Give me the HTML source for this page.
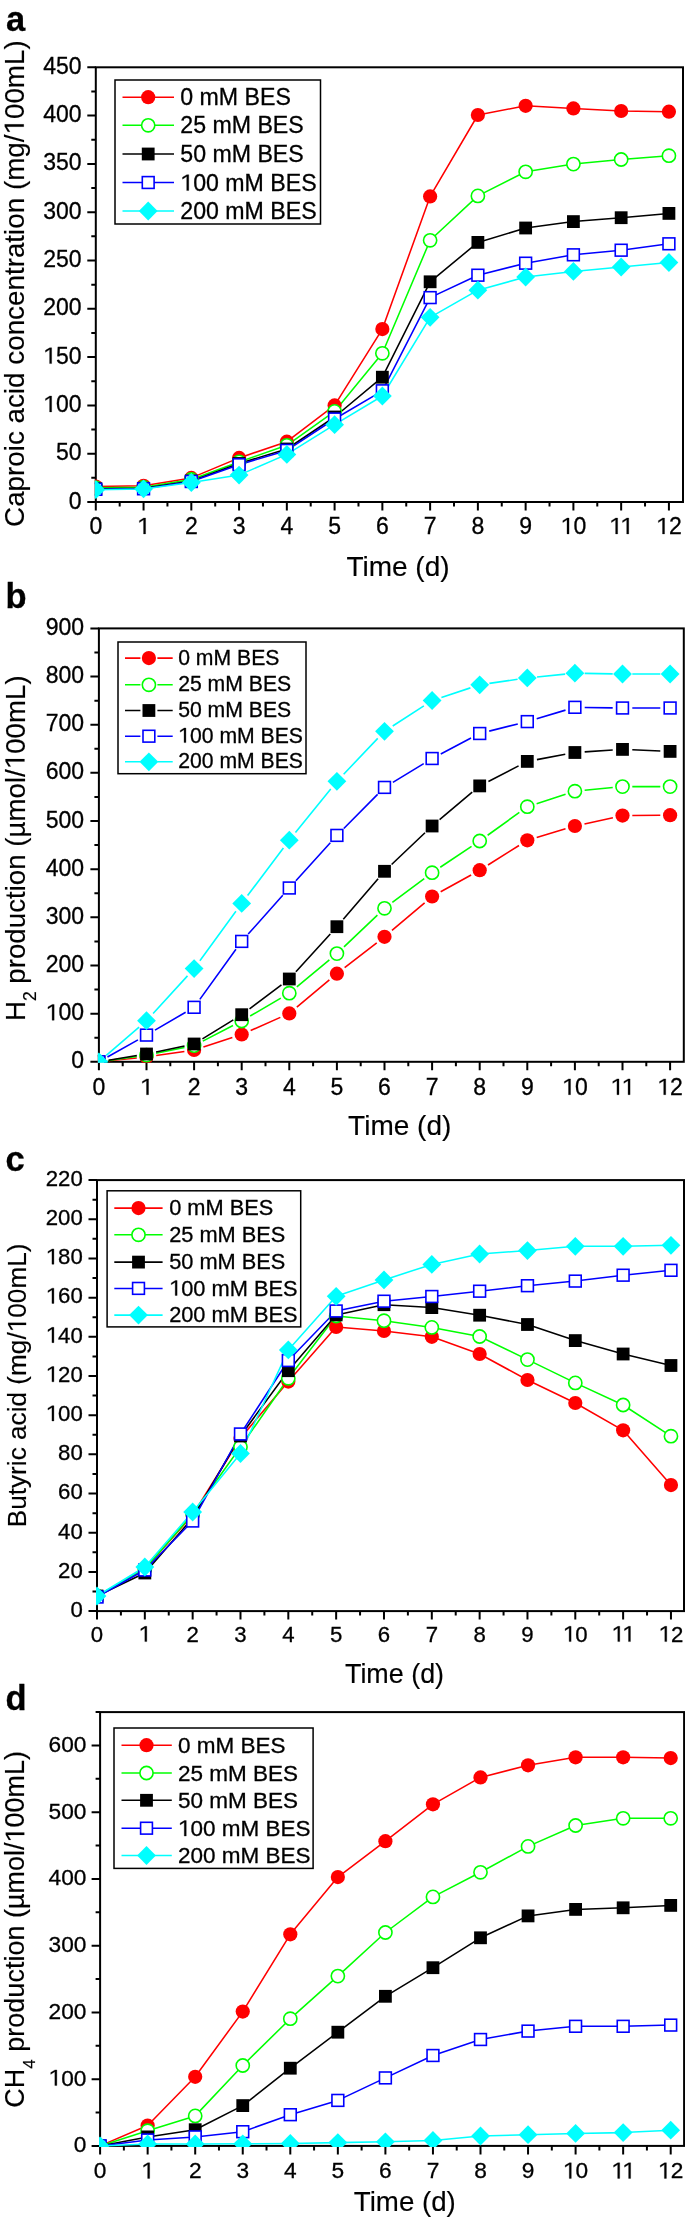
<!DOCTYPE html>
<html><head><meta charset="utf-8"><style>
html,body{margin:0;padding:0;background:#fff;}
svg{display:block;will-change:transform;}
.o1{fill-opacity:0;stroke-opacity:0;}
.ov path{fill:#000;stroke:#000;}
text{font-family:"Liberation Sans", sans-serif;fill:#000;stroke:#000;stroke-width:0.3px;}
text.ttl{stroke-width:0.15px;}
</style></head><body>
<svg width="685" height="2220" viewBox="0 0 685 2220">
<rect width="685" height="2220" fill="#fff"/>
<text x="5.9" y="30.5" font-size="34.5" font-weight="bold">a</text>
<rect x="95.8" y="67.3" width="587.2" height="434.7" fill="none" stroke="#000" stroke-width="2.0"/>
<path d="M87.3 502H95.8M91.3 477.85H95.8M87.3 453.7H95.8M91.3 429.55H95.8M87.3 405.4H95.8M91.3 381.25H95.8M87.3 357.1H95.8M91.3 332.95H95.8M87.3 308.8H95.8M91.3 284.65H95.8M87.3 260.5H95.8M91.3 236.35H95.8M87.3 212.2H95.8M91.3 188.05H95.8M87.3 163.9H95.8M91.3 139.75H95.8M87.3 115.6H95.8M91.3 91.45H95.8M87.3 67.3H95.8M95.8 502V510.5M119.68 502V506.5M143.56 502V510.5M167.44 502V506.5M191.32 502V510.5M215.2 502V506.5M239.08 502V510.5M262.96 502V506.5M286.84 502V510.5M310.72 502V506.5M334.6 502V510.5M358.48 502V506.5M382.36 502V510.5M406.24 502V506.5M430.12 502V510.5M454 502V506.5M477.88 502V510.5M501.76 502V506.5M525.64 502V510.5M549.52 502V506.5M573.4 502V510.5M597.28 502V506.5M621.16 502V510.5M645.04 502V506.5M668.92 502V510.5" stroke="#000" stroke-width="2.0" fill="none"/>
<clipPath id="clip0"><rect x="94.8" y="66.3" width="589.2" height="436.7"/></clipPath>
<g clip-path="url(#clip0)">
<polyline points="95.8,486.5 143.56,485.8 191.32,477.9 239.08,457.9 286.84,441.7 334.6,405.4 382.36,329.1 430.12,196.4 477.88,115 525.64,105.8 573.4,108.4 621.16,111 668.92,111.7" fill="none" stroke="#ff0000" stroke-width="1.55" stroke-linejoin="round"/>
<polyline points="95.8,487.8 143.56,487.3 191.32,479.5 239.08,461.9 286.84,445.3 334.6,411.4 382.36,353.3 430.12,240.3 477.88,195.9 525.64,171.8 573.4,164.1 621.16,159.5 668.92,155.7" fill="none" stroke="#00ff00" stroke-width="1.55" stroke-linejoin="round"/>
<polyline points="95.8,488.8 143.56,488.3 191.32,481 239.08,463.5 286.84,449 334.6,417 382.36,377.2 430.12,281.8 477.88,242.4 525.64,228 573.4,221.6 621.16,217.7 668.92,213.4" fill="none" stroke="#000000" stroke-width="1.55" stroke-linejoin="round"/>
<polyline points="95.8,489.3 143.56,488.8 191.32,481.5 239.08,464.7 286.84,450.4 334.6,419 382.36,390.8 430.12,297.6 477.88,275.2 525.64,263.2 573.4,254.8 621.16,250.2 668.92,243.8" fill="none" stroke="#0000ff" stroke-width="1.55" stroke-linejoin="round"/>
<polyline points="95.8,489.7 143.56,488.9 191.32,482.5 239.08,475.1 286.84,454.4 334.6,424.7 382.36,396 430.12,317.3 477.88,290.2 525.64,277 573.4,271.4 621.16,267 668.92,262.5" fill="none" stroke="#00ffff" stroke-width="1.55" stroke-linejoin="round"/>
<circle cx="95.8" cy="486.5" r="7.1" fill="#ff0000"/>
<circle cx="143.56" cy="485.8" r="7.1" fill="#ff0000"/>
<circle cx="191.32" cy="477.9" r="7.1" fill="#ff0000"/>
<circle cx="239.08" cy="457.9" r="7.1" fill="#ff0000"/>
<circle cx="286.84" cy="441.7" r="7.1" fill="#ff0000"/>
<circle cx="334.6" cy="405.4" r="7.1" fill="#ff0000"/>
<circle cx="382.36" cy="329.1" r="7.1" fill="#ff0000"/>
<circle cx="430.12" cy="196.4" r="7.1" fill="#ff0000"/>
<circle cx="477.88" cy="115" r="7.1" fill="#ff0000"/>
<circle cx="525.64" cy="105.8" r="7.1" fill="#ff0000"/>
<circle cx="573.4" cy="108.4" r="7.1" fill="#ff0000"/>
<circle cx="621.16" cy="111" r="7.1" fill="#ff0000"/>
<circle cx="668.92" cy="111.7" r="7.1" fill="#ff0000"/>
<circle cx="95.8" cy="487.8" r="6.6" fill="#fff" stroke="#00ff00" stroke-width="1.6"/>
<circle cx="143.56" cy="487.3" r="6.6" fill="#fff" stroke="#00ff00" stroke-width="1.6"/>
<circle cx="191.32" cy="479.5" r="6.6" fill="#fff" stroke="#00ff00" stroke-width="1.6"/>
<circle cx="239.08" cy="461.9" r="6.6" fill="#fff" stroke="#00ff00" stroke-width="1.6"/>
<circle cx="286.84" cy="445.3" r="6.6" fill="#fff" stroke="#00ff00" stroke-width="1.6"/>
<circle cx="334.6" cy="411.4" r="6.6" fill="#fff" stroke="#00ff00" stroke-width="1.6"/>
<circle cx="382.36" cy="353.3" r="6.6" fill="#fff" stroke="#00ff00" stroke-width="1.6"/>
<circle cx="430.12" cy="240.3" r="6.6" fill="#fff" stroke="#00ff00" stroke-width="1.6"/>
<circle cx="477.88" cy="195.9" r="6.6" fill="#fff" stroke="#00ff00" stroke-width="1.6"/>
<circle cx="525.64" cy="171.8" r="6.6" fill="#fff" stroke="#00ff00" stroke-width="1.6"/>
<circle cx="573.4" cy="164.1" r="6.6" fill="#fff" stroke="#00ff00" stroke-width="1.6"/>
<circle cx="621.16" cy="159.5" r="6.6" fill="#fff" stroke="#00ff00" stroke-width="1.6"/>
<circle cx="668.92" cy="155.7" r="6.6" fill="#fff" stroke="#00ff00" stroke-width="1.6"/>
<rect x="89.4" y="482.4" width="12.8" height="12.8" fill="#000"/>
<rect x="137.16" y="481.9" width="12.8" height="12.8" fill="#000"/>
<rect x="184.92" y="474.6" width="12.8" height="12.8" fill="#000"/>
<rect x="232.68" y="457.1" width="12.8" height="12.8" fill="#000"/>
<rect x="280.44" y="442.6" width="12.8" height="12.8" fill="#000"/>
<rect x="328.2" y="410.6" width="12.8" height="12.8" fill="#000"/>
<rect x="375.96" y="370.8" width="12.8" height="12.8" fill="#000"/>
<rect x="423.72" y="275.4" width="12.8" height="12.8" fill="#000"/>
<rect x="471.48" y="236" width="12.8" height="12.8" fill="#000"/>
<rect x="519.24" y="221.6" width="12.8" height="12.8" fill="#000"/>
<rect x="567" y="215.2" width="12.8" height="12.8" fill="#000"/>
<rect x="614.76" y="211.3" width="12.8" height="12.8" fill="#000"/>
<rect x="662.52" y="207" width="12.8" height="12.8" fill="#000"/>
<rect x="89.9" y="483.4" width="11.8" height="11.8" fill="#fff" stroke="#0000ff" stroke-width="1.6"/>
<rect x="137.66" y="482.9" width="11.8" height="11.8" fill="#fff" stroke="#0000ff" stroke-width="1.6"/>
<rect x="185.42" y="475.6" width="11.8" height="11.8" fill="#fff" stroke="#0000ff" stroke-width="1.6"/>
<rect x="233.18" y="458.8" width="11.8" height="11.8" fill="#fff" stroke="#0000ff" stroke-width="1.6"/>
<rect x="280.94" y="444.5" width="11.8" height="11.8" fill="#fff" stroke="#0000ff" stroke-width="1.6"/>
<rect x="328.7" y="413.1" width="11.8" height="11.8" fill="#fff" stroke="#0000ff" stroke-width="1.6"/>
<rect x="376.46" y="384.9" width="11.8" height="11.8" fill="#fff" stroke="#0000ff" stroke-width="1.6"/>
<rect x="424.22" y="291.7" width="11.8" height="11.8" fill="#fff" stroke="#0000ff" stroke-width="1.6"/>
<rect x="471.98" y="269.3" width="11.8" height="11.8" fill="#fff" stroke="#0000ff" stroke-width="1.6"/>
<rect x="519.74" y="257.3" width="11.8" height="11.8" fill="#fff" stroke="#0000ff" stroke-width="1.6"/>
<rect x="567.5" y="248.9" width="11.8" height="11.8" fill="#fff" stroke="#0000ff" stroke-width="1.6"/>
<rect x="615.26" y="244.3" width="11.8" height="11.8" fill="#fff" stroke="#0000ff" stroke-width="1.6"/>
<rect x="663.02" y="237.9" width="11.8" height="11.8" fill="#fff" stroke="#0000ff" stroke-width="1.6"/>
<path d="M95.8 480.3L105.2 489.7L95.8 499.1L86.4 489.7Z" fill="#00ffff"/>
<path d="M143.56 479.5L152.96 488.9L143.56 498.3L134.16 488.9Z" fill="#00ffff"/>
<path d="M191.32 473.1L200.72 482.5L191.32 491.9L181.92 482.5Z" fill="#00ffff"/>
<path d="M239.08 465.7L248.48 475.1L239.08 484.5L229.68 475.1Z" fill="#00ffff"/>
<path d="M286.84 445L296.24 454.4L286.84 463.8L277.44 454.4Z" fill="#00ffff"/>
<path d="M334.6 415.3L344 424.7L334.6 434.1L325.2 424.7Z" fill="#00ffff"/>
<path d="M382.36 386.6L391.76 396L382.36 405.4L372.96 396Z" fill="#00ffff"/>
<path d="M430.12 307.9L439.52 317.3L430.12 326.7L420.72 317.3Z" fill="#00ffff"/>
<path d="M477.88 280.8L487.28 290.2L477.88 299.6L468.48 290.2Z" fill="#00ffff"/>
<path d="M525.64 267.6L535.04 277L525.64 286.4L516.24 277Z" fill="#00ffff"/>
<path d="M573.4 262L582.8 271.4L573.4 280.8L564 271.4Z" fill="#00ffff"/>
<path d="M621.16 257.6L630.56 267L621.16 276.4L611.76 267Z" fill="#00ffff"/>
<path d="M668.92 253.1L678.32 262.5L668.92 271.9L659.52 262.5Z" fill="#00ffff"/>
</g>
<text x="81.6" y="508.5" font-size="23" text-anchor="end">0</text>
<text x="81.6" y="460.2" font-size="23" text-anchor="end">50</text>
<text id="t1_1" x="81.6" y="411.9" font-size="23" text-anchor="end"><tspan class="o1">1</tspan>00</text><g class="ov"><path d="M570 0L570 1250L200 1010L200 1180L585 1409L751 1409L751 0Z" transform="translate(43.21 411.90) scale(0.01123 -0.01123)" stroke-width="26.7"/></g>
<text id="t1_2" x="81.6" y="363.6" font-size="23" text-anchor="end"><tspan class="o1">1</tspan>50</text><g class="ov"><path d="M570 0L570 1250L200 1010L200 1180L585 1409L751 1409L751 0Z" transform="translate(43.21 363.60) scale(0.01123 -0.01123)" stroke-width="26.7"/></g>
<text x="81.6" y="315.3" font-size="23" text-anchor="end">200</text>
<text x="81.6" y="267" font-size="23" text-anchor="end">250</text>
<text x="81.6" y="218.7" font-size="23" text-anchor="end">300</text>
<text x="81.6" y="170.4" font-size="23" text-anchor="end">350</text>
<text x="81.6" y="122.1" font-size="23" text-anchor="end">400</text>
<text x="81.6" y="73.8" font-size="23" text-anchor="end">450</text>
<text x="95.8" y="533.9" font-size="23" text-anchor="middle">0</text>
<text id="t1_3" x="143.56" y="533.9" font-size="23" text-anchor="middle"><tspan class="o1">1</tspan></text><g class="ov"><path d="M570 0L570 1250L200 1010L200 1180L585 1409L751 1409L751 0Z" transform="translate(137.16 533.90) scale(0.01123 -0.01123)" stroke-width="26.7"/></g>
<text x="191.32" y="533.9" font-size="23" text-anchor="middle">2</text>
<text x="239.08" y="533.9" font-size="23" text-anchor="middle">3</text>
<text x="286.84" y="533.9" font-size="23" text-anchor="middle">4</text>
<text x="334.6" y="533.9" font-size="23" text-anchor="middle">5</text>
<text x="382.36" y="533.9" font-size="23" text-anchor="middle">6</text>
<text x="430.12" y="533.9" font-size="23" text-anchor="middle">7</text>
<text x="477.88" y="533.9" font-size="23" text-anchor="middle">8</text>
<text x="525.64" y="533.9" font-size="23" text-anchor="middle">9</text>
<text id="t1_4" x="573.4" y="533.9" font-size="23" text-anchor="middle"><tspan class="o1">1</tspan>0</text><g class="ov"><path d="M570 0L570 1250L200 1010L200 1180L585 1409L751 1409L751 0Z" transform="translate(560.60 533.90) scale(0.01123 -0.01123)" stroke-width="26.7"/></g>
<text id="t1_5" x="621.16" y="533.9" font-size="23" text-anchor="middle"><tspan class="o1">1</tspan><tspan class="o1">1</tspan></text><g class="ov"><path d="M570 0L570 1250L200 1010L200 1180L585 1409L751 1409L751 0Z" transform="translate(609.21 533.90) scale(0.01123 -0.01123)" stroke-width="26.7"/><path d="M570 0L570 1250L200 1010L200 1180L585 1409L751 1409L751 0Z" transform="translate(620.31 533.90) scale(0.01123 -0.01123)" stroke-width="26.7"/></g>
<text id="t1_6" x="668.92" y="533.9" font-size="23" text-anchor="middle"><tspan class="o1">1</tspan>2</text><g class="ov"><path d="M570 0L570 1250L200 1010L200 1180L585 1409L751 1409L751 0Z" transform="translate(656.12 533.90) scale(0.01123 -0.01123)" stroke-width="26.7"/></g>
<text class="ttl" x="398" y="575.5" font-size="28" text-anchor="middle">Time (d)</text>
<text id="t1_7" class="ttl" transform="translate(23.8 283.6) rotate(-90)" font-size="27.8" text-anchor="middle">Caproic acid concentration (mg/<tspan class="o1">1</tspan>00mL)</text><g class="ov" transform="translate(23.8 283.6) rotate(-90)"><path d="M570 0L570 1250L200 1010L200 1180L585 1409L751 1409L751 0Z" transform="translate(149.09 0.00) scale(0.01357 -0.01357)" stroke-width="11.1"/></g>
<rect x="115" y="80" width="205.5" height="144" fill="#fff" stroke="#000" stroke-width="1.5"/>
<path d="M122.5 97.2H174" stroke="#ff0000" stroke-width="1.55"/>
<circle cx="148.2" cy="97.2" r="7.1" fill="#ff0000"/>
<text x="180.27" y="105.27" font-size="23.15">0 mM BES</text>
<path d="M122.5 125.3H174" stroke="#00ff00" stroke-width="1.55"/>
<circle cx="148.2" cy="125.3" r="6.6" fill="#fff" stroke="#00ff00" stroke-width="1.6"/>
<text x="180.27" y="133.37" font-size="23.15">25 mM BES</text>
<path d="M122.5 154H174" stroke="#000000" stroke-width="1.55"/>
<rect x="141.8" y="147.6" width="12.8" height="12.8" fill="#000"/>
<text x="180.27" y="162.07" font-size="23.15">50 mM BES</text>
<path d="M122.5 182.5H174" stroke="#0000ff" stroke-width="1.55"/>
<rect x="142.3" y="176.6" width="11.8" height="11.8" fill="#fff" stroke="#0000ff" stroke-width="1.6"/>
<text id="t1_8" x="180.27" y="190.57" font-size="23.15"><tspan class="o1">1</tspan>00 mM BES</text><g class="ov"><path d="M570 0L570 1250L200 1010L200 1180L585 1409L751 1409L751 0Z" transform="translate(180.27 190.57) scale(0.01130 -0.01130)" stroke-width="26.5"/></g>
<path d="M122.5 211H174" stroke="#00ffff" stroke-width="1.55"/>
<path d="M148.2 201.6L157.6 211L148.2 220.4L138.8 211Z" fill="#00ffff"/>
<text x="180.27" y="219.07" font-size="23.15">200 mM BES</text>
<text x="5.5" y="607.7" font-size="34.5" font-weight="bold">b</text>
<rect x="98.9" y="628.4" width="584.9" height="433.4" fill="none" stroke="#000" stroke-width="2.0"/>
<path d="M90.4 1061.8H98.9M94.4 1037.72H98.9M90.4 1013.64H98.9M94.4 989.57H98.9M90.4 965.49H98.9M94.4 941.41H98.9M90.4 917.33H98.9M94.4 893.26H98.9M90.4 869.18H98.9M94.4 845.1H98.9M90.4 821.02H98.9M94.4 796.94H98.9M90.4 772.87H98.9M94.4 748.79H98.9M90.4 724.71H98.9M94.4 700.63H98.9M90.4 676.56H98.9M94.4 652.48H98.9M90.4 628.4H98.9M98.9 1061.8V1070.3M122.7 1061.8V1066.3M146.5 1061.8V1070.3M170.3 1061.8V1066.3M194.1 1061.8V1070.3M217.9 1061.8V1066.3M241.7 1061.8V1070.3M265.5 1061.8V1066.3M289.3 1061.8V1070.3M313.1 1061.8V1066.3M336.9 1061.8V1070.3M360.7 1061.8V1066.3M384.5 1061.8V1070.3M408.3 1061.8V1066.3M432.1 1061.8V1070.3M455.9 1061.8V1066.3M479.7 1061.8V1070.3M503.5 1061.8V1066.3M527.3 1061.8V1070.3M551.1 1061.8V1066.3M574.9 1061.8V1070.3M598.7 1061.8V1066.3M622.5 1061.8V1070.3M646.3 1061.8V1066.3M670.1 1061.8V1070.3" stroke="#000" stroke-width="2.0" fill="none"/>
<clipPath id="clip1"><rect x="97.9" y="627.4" width="586.9" height="435.4"/></clipPath>
<g clip-path="url(#clip1)">
<path d="M108.65 1060.82L136.75 1057.98M156.2 1055.57L184.4 1051.43M203.42 1046.97L232.38 1037.53M250.66 1030.53L280.34 1017.37M296.83 1007.12L329.37 979.98M344.65 967.7L376.75 942.8M391.98 930.47L424.62 902.83M440.68 891.76L471.12 874.94M488 864.99L519 845.51M536.69 837.48L565.51 828.82M584.47 823.91L612.93 817.69M632.3 815.52L660.3 815.28" fill="none" stroke="#ff0000" stroke-width="1.6"/>
<path d="M108.6 1060.43L136.8 1056.47M156.11 1053.18L184.49 1047.52M202.81 1041.1L232.99 1025.5M250.16 1016.06L280.84 998.14M296.83 986.93L329.37 959.87M344 946.84L377.4 915.06M392.35 902.43L424.25 878.57M440.26 867.27L471.54 846.43M487.65 835.27L519.35 812.43M536.62 803.67L565.58 794.23M584.65 790.26L612.75 787.54M632.3 786.6L660.3 786.6" fill="none" stroke="#00ff00" stroke-width="1.6"/>
<path d="M108.57 1060.22L136.83 1055.58M156.09 1051.99L184.51 1046.01M202.45 1038.86L233.35 1019.84M249.54 1008.82L281.46 984.88M295.9 971.75L330.3 933.95M343.29 919.27L378.11 878.73M391.6 864.54L425 832.76M439.59 819.69L472.21 792.21M488.41 781.42L518.59 765.88M536.93 759.6L565.27 754.3M584.68 751.86L612.72 750.04M632.29 749.81L660.31 750.99" fill="none" stroke="#000000" stroke-width="1.6"/>
<path d="M107.45 1057.01L137.95 1039.89M154.96 1030.16L185.64 1012.24M199.84 999.36L235.96 949.34M248.22 934.08L282.78 895.32M295.88 880.73L330.32 842.67M343.8 828.44L377.6 794.36M392.88 782.31L423.72 763.59M440.78 753.94L471.02 738.06M489.21 731.12L517.79 723.98M536.69 718.78L565.51 710.12M584.7 707.44L612.7 707.86M632.3 708L660.3 708" fill="none" stroke="#0000ff" stroke-width="1.6"/>
<path d="M106.32 1055.4L139.08 1027.1M153.11 1013.46L187.49 975.84M199.88 960.68L235.92 911.32M247.6 895.57L283.4 848.03M295.46 832.58L330.74 788.92M343.66 774.2L377.74 738.4M392.73 725.98L423.87 705.82M441.41 697.43L470.39 687.87M489.4 683.39L517.6 679.31M537.05 676.94L565.15 674.16M584.7 673.36L612.7 673.84M632.3 674L660.3 674" fill="none" stroke="#00ffff" stroke-width="1.6"/>
<circle cx="98.9" cy="1061.8" r="7.1" fill="#ff0000"/>
<circle cx="146.5" cy="1057" r="7.1" fill="#ff0000"/>
<circle cx="194.1" cy="1050" r="7.1" fill="#ff0000"/>
<circle cx="241.7" cy="1034.5" r="7.1" fill="#ff0000"/>
<circle cx="289.3" cy="1013.4" r="7.1" fill="#ff0000"/>
<circle cx="336.9" cy="973.7" r="7.1" fill="#ff0000"/>
<circle cx="384.5" cy="936.8" r="7.1" fill="#ff0000"/>
<circle cx="432.1" cy="896.5" r="7.1" fill="#ff0000"/>
<circle cx="479.7" cy="870.2" r="7.1" fill="#ff0000"/>
<circle cx="527.3" cy="840.3" r="7.1" fill="#ff0000"/>
<circle cx="574.9" cy="826" r="7.1" fill="#ff0000"/>
<circle cx="622.5" cy="815.6" r="7.1" fill="#ff0000"/>
<circle cx="670.1" cy="815.2" r="7.1" fill="#ff0000"/>
<circle cx="98.9" cy="1061.8" r="6.6" fill="#fff" stroke="#00ff00" stroke-width="1.6"/>
<circle cx="146.5" cy="1055.1" r="6.6" fill="#fff" stroke="#00ff00" stroke-width="1.6"/>
<circle cx="194.1" cy="1045.6" r="6.6" fill="#fff" stroke="#00ff00" stroke-width="1.6"/>
<circle cx="241.7" cy="1021" r="6.6" fill="#fff" stroke="#00ff00" stroke-width="1.6"/>
<circle cx="289.3" cy="993.2" r="6.6" fill="#fff" stroke="#00ff00" stroke-width="1.6"/>
<circle cx="336.9" cy="953.6" r="6.6" fill="#fff" stroke="#00ff00" stroke-width="1.6"/>
<circle cx="384.5" cy="908.3" r="6.6" fill="#fff" stroke="#00ff00" stroke-width="1.6"/>
<circle cx="432.1" cy="872.7" r="6.6" fill="#fff" stroke="#00ff00" stroke-width="1.6"/>
<circle cx="479.7" cy="841" r="6.6" fill="#fff" stroke="#00ff00" stroke-width="1.6"/>
<circle cx="527.3" cy="806.7" r="6.6" fill="#fff" stroke="#00ff00" stroke-width="1.6"/>
<circle cx="574.9" cy="791.2" r="6.6" fill="#fff" stroke="#00ff00" stroke-width="1.6"/>
<circle cx="622.5" cy="786.6" r="6.6" fill="#fff" stroke="#00ff00" stroke-width="1.6"/>
<circle cx="670.1" cy="786.6" r="6.6" fill="#fff" stroke="#00ff00" stroke-width="1.6"/>
<rect x="92.5" y="1055.4" width="12.8" height="12.8" fill="#000"/>
<rect x="140.1" y="1047.6" width="12.8" height="12.8" fill="#000"/>
<rect x="187.7" y="1037.6" width="12.8" height="12.8" fill="#000"/>
<rect x="235.3" y="1008.3" width="12.8" height="12.8" fill="#000"/>
<rect x="282.9" y="972.6" width="12.8" height="12.8" fill="#000"/>
<rect x="330.5" y="920.3" width="12.8" height="12.8" fill="#000"/>
<rect x="378.1" y="864.9" width="12.8" height="12.8" fill="#000"/>
<rect x="425.7" y="819.6" width="12.8" height="12.8" fill="#000"/>
<rect x="473.3" y="779.5" width="12.8" height="12.8" fill="#000"/>
<rect x="520.9" y="755" width="12.8" height="12.8" fill="#000"/>
<rect x="568.5" y="746.1" width="12.8" height="12.8" fill="#000"/>
<rect x="616.1" y="743" width="12.8" height="12.8" fill="#000"/>
<rect x="663.7" y="745" width="12.8" height="12.8" fill="#000"/>
<rect x="93" y="1055.9" width="11.8" height="11.8" fill="#fff" stroke="#0000ff" stroke-width="1.6"/>
<rect x="140.6" y="1029.2" width="11.8" height="11.8" fill="#fff" stroke="#0000ff" stroke-width="1.6"/>
<rect x="188.2" y="1001.4" width="11.8" height="11.8" fill="#fff" stroke="#0000ff" stroke-width="1.6"/>
<rect x="235.8" y="935.5" width="11.8" height="11.8" fill="#fff" stroke="#0000ff" stroke-width="1.6"/>
<rect x="283.4" y="882.1" width="11.8" height="11.8" fill="#fff" stroke="#0000ff" stroke-width="1.6"/>
<rect x="331" y="829.5" width="11.8" height="11.8" fill="#fff" stroke="#0000ff" stroke-width="1.6"/>
<rect x="378.6" y="781.5" width="11.8" height="11.8" fill="#fff" stroke="#0000ff" stroke-width="1.6"/>
<rect x="426.2" y="752.6" width="11.8" height="11.8" fill="#fff" stroke="#0000ff" stroke-width="1.6"/>
<rect x="473.8" y="727.6" width="11.8" height="11.8" fill="#fff" stroke="#0000ff" stroke-width="1.6"/>
<rect x="521.4" y="715.7" width="11.8" height="11.8" fill="#fff" stroke="#0000ff" stroke-width="1.6"/>
<rect x="569" y="701.4" width="11.8" height="11.8" fill="#fff" stroke="#0000ff" stroke-width="1.6"/>
<rect x="616.6" y="702.1" width="11.8" height="11.8" fill="#fff" stroke="#0000ff" stroke-width="1.6"/>
<rect x="664.2" y="702.1" width="11.8" height="11.8" fill="#fff" stroke="#0000ff" stroke-width="1.6"/>
<path d="M98.9 1052.4L108.3 1061.8L98.9 1071.2L89.5 1061.8Z" fill="#00ffff"/>
<path d="M146.5 1011.3L155.9 1020.7L146.5 1030.1L137.1 1020.7Z" fill="#00ffff"/>
<path d="M194.1 959.2L203.5 968.6L194.1 978L184.7 968.6Z" fill="#00ffff"/>
<path d="M241.7 894L251.1 903.4L241.7 912.8L232.3 903.4Z" fill="#00ffff"/>
<path d="M289.3 830.8L298.7 840.2L289.3 849.6L279.9 840.2Z" fill="#00ffff"/>
<path d="M336.9 771.9L346.3 781.3L336.9 790.7L327.5 781.3Z" fill="#00ffff"/>
<path d="M384.5 721.9L393.9 731.3L384.5 740.7L375.1 731.3Z" fill="#00ffff"/>
<path d="M432.1 691.1L441.5 700.5L432.1 709.9L422.7 700.5Z" fill="#00ffff"/>
<path d="M479.7 675.4L489.1 684.8L479.7 694.2L470.3 684.8Z" fill="#00ffff"/>
<path d="M527.3 668.5L536.7 677.9L527.3 687.3L517.9 677.9Z" fill="#00ffff"/>
<path d="M574.9 663.8L584.3 673.2L574.9 682.6L565.5 673.2Z" fill="#00ffff"/>
<path d="M622.5 664.6L631.9 674L622.5 683.4L613.1 674Z" fill="#00ffff"/>
<path d="M670.1 664.6L679.5 674L670.1 683.4L660.7 674Z" fill="#00ffff"/>
</g>
<text x="84.1" y="1068.4" font-size="23" text-anchor="end">0</text>
<text id="t1_9" x="84.1" y="1020.24" font-size="23" text-anchor="end"><tspan class="o1">1</tspan>00</text><g class="ov"><path d="M570 0L570 1250L200 1010L200 1180L585 1409L751 1409L751 0Z" transform="translate(45.71 1020.24) scale(0.01123 -0.01123)" stroke-width="26.7"/></g>
<text x="84.1" y="972.09" font-size="23" text-anchor="end">200</text>
<text x="84.1" y="923.93" font-size="23" text-anchor="end">300</text>
<text x="84.1" y="875.78" font-size="23" text-anchor="end">400</text>
<text x="84.1" y="827.62" font-size="23" text-anchor="end">500</text>
<text x="84.1" y="779.47" font-size="23" text-anchor="end">600</text>
<text x="84.1" y="731.31" font-size="23" text-anchor="end">700</text>
<text x="84.1" y="683.16" font-size="23" text-anchor="end">800</text>
<text x="84.1" y="635" font-size="23" text-anchor="end">900</text>
<text x="98.9" y="1094.7" font-size="23" text-anchor="middle">0</text>
<text id="t1_10" x="146.5" y="1094.7" font-size="23" text-anchor="middle"><tspan class="o1">1</tspan></text><g class="ov"><path d="M570 0L570 1250L200 1010L200 1180L585 1409L751 1409L751 0Z" transform="translate(140.10 1094.70) scale(0.01123 -0.01123)" stroke-width="26.7"/></g>
<text x="194.1" y="1094.7" font-size="23" text-anchor="middle">2</text>
<text x="241.7" y="1094.7" font-size="23" text-anchor="middle">3</text>
<text x="289.3" y="1094.7" font-size="23" text-anchor="middle">4</text>
<text x="336.9" y="1094.7" font-size="23" text-anchor="middle">5</text>
<text x="384.5" y="1094.7" font-size="23" text-anchor="middle">6</text>
<text x="432.1" y="1094.7" font-size="23" text-anchor="middle">7</text>
<text x="479.7" y="1094.7" font-size="23" text-anchor="middle">8</text>
<text x="527.3" y="1094.7" font-size="23" text-anchor="middle">9</text>
<text id="t1_11" x="574.9" y="1094.7" font-size="23" text-anchor="middle"><tspan class="o1">1</tspan>0</text><g class="ov"><path d="M570 0L570 1250L200 1010L200 1180L585 1409L751 1409L751 0Z" transform="translate(562.10 1094.70) scale(0.01123 -0.01123)" stroke-width="26.7"/></g>
<text id="t1_12" x="622.5" y="1094.7" font-size="23" text-anchor="middle"><tspan class="o1">1</tspan><tspan class="o1">1</tspan></text><g class="ov"><path d="M570 0L570 1250L200 1010L200 1180L585 1409L751 1409L751 0Z" transform="translate(610.55 1094.70) scale(0.01123 -0.01123)" stroke-width="26.7"/><path d="M570 0L570 1250L200 1010L200 1180L585 1409L751 1409L751 0Z" transform="translate(621.65 1094.70) scale(0.01123 -0.01123)" stroke-width="26.7"/></g>
<text id="t1_13" x="670.1" y="1094.7" font-size="23" text-anchor="middle"><tspan class="o1">1</tspan>2</text><g class="ov"><path d="M570 0L570 1250L200 1010L200 1180L585 1409L751 1409L751 0Z" transform="translate(657.30 1094.70) scale(0.01123 -0.01123)" stroke-width="26.7"/></g>
<text class="ttl" x="399.7" y="1134.8" font-size="28" text-anchor="middle">Time (d)</text>
<text id="t1_14" class="ttl" transform="translate(24.5 848.2) rotate(-90)" font-size="27.7" text-anchor="middle">H<tspan font-size="17.45" dy="11.4">2</tspan><tspan dy="-11.4"> production (µmol/<tspan class="o1">1</tspan>00mL)</tspan></text><g class="ov" transform="translate(24.5 848.2) rotate(-90)"><path d="M570 0L570 1250L200 1010L200 1180L585 1409L751 1409L751 0Z" transform="translate(78.99 0.00) scale(0.01353 -0.01353)" stroke-width="11.1"/></g>
<rect x="118" y="642" width="188" height="131.7" fill="#fff" stroke="#000" stroke-width="1.5"/>
<path d="M125 658.1H140.4M157.4 658.1H172.7" stroke="#ff0000" stroke-width="1.6"/>
<circle cx="148.9" cy="658.1" r="7.1" fill="#ff0000"/>
<text x="178.15" y="664.51" font-size="21.2">0 mM BES</text>
<path d="M125 684.8H140.4M157.4 684.8H172.7" stroke="#00ff00" stroke-width="1.6"/>
<circle cx="148.9" cy="684.8" r="6.6" fill="#fff" stroke="#00ff00" stroke-width="1.6"/>
<text x="178.15" y="691.21" font-size="21.2">25 mM BES</text>
<path d="M125 710.5H140.4M157.4 710.5H172.7" stroke="#000000" stroke-width="1.6"/>
<rect x="142.5" y="704.1" width="12.8" height="12.8" fill="#000"/>
<text x="178.15" y="716.91" font-size="21.2">50 mM BES</text>
<path d="M125 736.2H140.4M157.4 736.2H172.7" stroke="#0000ff" stroke-width="1.6"/>
<rect x="143" y="730.3" width="11.8" height="11.8" fill="#fff" stroke="#0000ff" stroke-width="1.6"/>
<text id="t1_15" x="178.15" y="742.61" font-size="21.2"><tspan class="o1">1</tspan>00 mM BES</text><g class="ov"><path d="M570 0L570 1250L200 1010L200 1180L585 1409L751 1409L751 0Z" transform="translate(178.15 742.61) scale(0.01035 -0.01035)" stroke-width="29.0"/></g>
<path d="M125 761.8H140.4M157.4 761.8H172.7" stroke="#00ffff" stroke-width="1.6"/>
<path d="M148.9 752.4L158.3 761.8L148.9 771.2L139.5 761.8Z" fill="#00ffff"/>
<text x="178.15" y="768.21" font-size="21.2">200 mM BES</text>
<text x="5.6" y="1170.5" font-size="34.5" font-weight="bold">c</text>
<rect x="97" y="1180.1" width="587" height="431" fill="none" stroke="#000" stroke-width="2.0"/>
<path d="M88.5 1611.1H97M92.5 1591.51H97M88.5 1571.92H97M92.5 1552.33H97M88.5 1532.74H97M92.5 1513.15H97M88.5 1493.55H97M92.5 1473.96H97M88.5 1454.37H97M92.5 1434.78H97M88.5 1415.19H97M92.5 1395.6H97M88.5 1376.01H97M92.5 1356.42H97M88.5 1336.83H97M92.5 1317.24H97M88.5 1297.65H97M92.5 1278.05H97M88.5 1258.46H97M92.5 1238.87H97M88.5 1219.28H97M92.5 1199.69H97M88.5 1180.1H97M97 1611.1V1619.6M120.91 1611.1V1615.6M144.83 1611.1V1619.6M168.75 1611.1V1615.6M192.66 1611.1V1619.6M216.57 1611.1V1615.6M240.49 1611.1V1619.6M264.4 1611.1V1615.6M288.32 1611.1V1619.6M312.24 1611.1V1615.6M336.15 1611.1V1619.6M360.06 1611.1V1615.6M383.98 1611.1V1619.6M407.89 1611.1V1615.6M431.81 1611.1V1619.6M455.72 1611.1V1615.6M479.64 1611.1V1619.6M503.56 1611.1V1615.6M527.47 1611.1V1619.6M551.38 1611.1V1615.6M575.3 1611.1V1619.6M599.21 1611.1V1615.6M623.13 1611.1V1619.6M647.04 1611.1V1615.6M670.96 1611.1V1619.6" stroke="#000" stroke-width="2.0" fill="none"/>
<clipPath id="clip2"><rect x="96" y="1179.1" width="589" height="433"/></clipPath>
<g clip-path="url(#clip2)">
<polyline points="97,1596.5 144.83,1569 192.66,1515 240.49,1438 288.32,1381.6 336.15,1327 383.98,1331 431.81,1336.8 479.64,1354 527.47,1380 575.3,1403 623.13,1430.3 670.96,1485.1" fill="none" stroke="#ff0000" stroke-width="1.55" stroke-linejoin="round"/>
<polyline points="97,1596 144.83,1569 192.66,1514 240.49,1447 288.32,1378.3 336.15,1316 383.98,1320.7 431.81,1327.4 479.64,1336.5 527.47,1359.6 575.3,1382.9 623.13,1405 670.96,1436.2" fill="none" stroke="#00ff00" stroke-width="1.55" stroke-linejoin="round"/>
<polyline points="97,1596 144.83,1573 192.66,1518 240.49,1436 288.32,1370.7 336.15,1314.9 383.98,1304.7 431.81,1307.6 479.64,1315.2 527.47,1324.5 575.3,1340.6 623.13,1354 670.96,1365.5" fill="none" stroke="#000000" stroke-width="1.55" stroke-linejoin="round"/>
<polyline points="97,1597 144.83,1570 192.66,1521 240.49,1434 288.32,1360.5 336.15,1311 383.98,1301.2 431.81,1296.5 479.64,1291.2 527.47,1285.7 575.3,1281.1 623.13,1275.2 670.96,1270.3" fill="none" stroke="#0000ff" stroke-width="1.55" stroke-linejoin="round"/>
<polyline points="97,1596 144.83,1567 192.66,1512 240.49,1453.5 288.32,1349.9 336.15,1296.3 383.98,1279.9 431.81,1264.4 479.64,1254 527.47,1250.6 575.3,1246.3 623.13,1246.3 670.96,1245.3" fill="none" stroke="#00ffff" stroke-width="1.55" stroke-linejoin="round"/>
<circle cx="97" cy="1596.5" r="7.1" fill="#ff0000"/>
<circle cx="144.83" cy="1569" r="7.1" fill="#ff0000"/>
<circle cx="192.66" cy="1515" r="7.1" fill="#ff0000"/>
<circle cx="240.49" cy="1438" r="7.1" fill="#ff0000"/>
<circle cx="288.32" cy="1381.6" r="7.1" fill="#ff0000"/>
<circle cx="336.15" cy="1327" r="7.1" fill="#ff0000"/>
<circle cx="383.98" cy="1331" r="7.1" fill="#ff0000"/>
<circle cx="431.81" cy="1336.8" r="7.1" fill="#ff0000"/>
<circle cx="479.64" cy="1354" r="7.1" fill="#ff0000"/>
<circle cx="527.47" cy="1380" r="7.1" fill="#ff0000"/>
<circle cx="575.3" cy="1403" r="7.1" fill="#ff0000"/>
<circle cx="623.13" cy="1430.3" r="7.1" fill="#ff0000"/>
<circle cx="670.96" cy="1485.1" r="7.1" fill="#ff0000"/>
<circle cx="97" cy="1596" r="6.6" fill="#fff" stroke="#00ff00" stroke-width="1.6"/>
<circle cx="144.83" cy="1569" r="6.6" fill="#fff" stroke="#00ff00" stroke-width="1.6"/>
<circle cx="192.66" cy="1514" r="6.6" fill="#fff" stroke="#00ff00" stroke-width="1.6"/>
<circle cx="240.49" cy="1447" r="6.6" fill="#fff" stroke="#00ff00" stroke-width="1.6"/>
<circle cx="288.32" cy="1378.3" r="6.6" fill="#fff" stroke="#00ff00" stroke-width="1.6"/>
<circle cx="336.15" cy="1316" r="6.6" fill="#fff" stroke="#00ff00" stroke-width="1.6"/>
<circle cx="383.98" cy="1320.7" r="6.6" fill="#fff" stroke="#00ff00" stroke-width="1.6"/>
<circle cx="431.81" cy="1327.4" r="6.6" fill="#fff" stroke="#00ff00" stroke-width="1.6"/>
<circle cx="479.64" cy="1336.5" r="6.6" fill="#fff" stroke="#00ff00" stroke-width="1.6"/>
<circle cx="527.47" cy="1359.6" r="6.6" fill="#fff" stroke="#00ff00" stroke-width="1.6"/>
<circle cx="575.3" cy="1382.9" r="6.6" fill="#fff" stroke="#00ff00" stroke-width="1.6"/>
<circle cx="623.13" cy="1405" r="6.6" fill="#fff" stroke="#00ff00" stroke-width="1.6"/>
<circle cx="670.96" cy="1436.2" r="6.6" fill="#fff" stroke="#00ff00" stroke-width="1.6"/>
<rect x="90.6" y="1589.6" width="12.8" height="12.8" fill="#000"/>
<rect x="138.43" y="1566.6" width="12.8" height="12.8" fill="#000"/>
<rect x="186.26" y="1511.6" width="12.8" height="12.8" fill="#000"/>
<rect x="234.09" y="1429.6" width="12.8" height="12.8" fill="#000"/>
<rect x="281.92" y="1364.3" width="12.8" height="12.8" fill="#000"/>
<rect x="329.75" y="1308.5" width="12.8" height="12.8" fill="#000"/>
<rect x="377.58" y="1298.3" width="12.8" height="12.8" fill="#000"/>
<rect x="425.41" y="1301.2" width="12.8" height="12.8" fill="#000"/>
<rect x="473.24" y="1308.8" width="12.8" height="12.8" fill="#000"/>
<rect x="521.07" y="1318.1" width="12.8" height="12.8" fill="#000"/>
<rect x="568.9" y="1334.2" width="12.8" height="12.8" fill="#000"/>
<rect x="616.73" y="1347.6" width="12.8" height="12.8" fill="#000"/>
<rect x="664.56" y="1359.1" width="12.8" height="12.8" fill="#000"/>
<rect x="91.1" y="1591.1" width="11.8" height="11.8" fill="#fff" stroke="#0000ff" stroke-width="1.6"/>
<rect x="138.93" y="1564.1" width="11.8" height="11.8" fill="#fff" stroke="#0000ff" stroke-width="1.6"/>
<rect x="186.76" y="1515.1" width="11.8" height="11.8" fill="#fff" stroke="#0000ff" stroke-width="1.6"/>
<rect x="234.59" y="1428.1" width="11.8" height="11.8" fill="#fff" stroke="#0000ff" stroke-width="1.6"/>
<rect x="282.42" y="1354.6" width="11.8" height="11.8" fill="#fff" stroke="#0000ff" stroke-width="1.6"/>
<rect x="330.25" y="1305.1" width="11.8" height="11.8" fill="#fff" stroke="#0000ff" stroke-width="1.6"/>
<rect x="378.08" y="1295.3" width="11.8" height="11.8" fill="#fff" stroke="#0000ff" stroke-width="1.6"/>
<rect x="425.91" y="1290.6" width="11.8" height="11.8" fill="#fff" stroke="#0000ff" stroke-width="1.6"/>
<rect x="473.74" y="1285.3" width="11.8" height="11.8" fill="#fff" stroke="#0000ff" stroke-width="1.6"/>
<rect x="521.57" y="1279.8" width="11.8" height="11.8" fill="#fff" stroke="#0000ff" stroke-width="1.6"/>
<rect x="569.4" y="1275.2" width="11.8" height="11.8" fill="#fff" stroke="#0000ff" stroke-width="1.6"/>
<rect x="617.23" y="1269.3" width="11.8" height="11.8" fill="#fff" stroke="#0000ff" stroke-width="1.6"/>
<rect x="665.06" y="1264.4" width="11.8" height="11.8" fill="#fff" stroke="#0000ff" stroke-width="1.6"/>
<path d="M97 1586.6L106.4 1596L97 1605.4L87.6 1596Z" fill="#00ffff"/>
<path d="M144.83 1557.6L154.23 1567L144.83 1576.4L135.43 1567Z" fill="#00ffff"/>
<path d="M192.66 1502.6L202.06 1512L192.66 1521.4L183.26 1512Z" fill="#00ffff"/>
<path d="M240.49 1444.1L249.89 1453.5L240.49 1462.9L231.09 1453.5Z" fill="#00ffff"/>
<path d="M288.32 1340.5L297.72 1349.9L288.32 1359.3L278.92 1349.9Z" fill="#00ffff"/>
<path d="M336.15 1286.9L345.55 1296.3L336.15 1305.7L326.75 1296.3Z" fill="#00ffff"/>
<path d="M383.98 1270.5L393.38 1279.9L383.98 1289.3L374.58 1279.9Z" fill="#00ffff"/>
<path d="M431.81 1255L441.21 1264.4L431.81 1273.8L422.41 1264.4Z" fill="#00ffff"/>
<path d="M479.64 1244.6L489.04 1254L479.64 1263.4L470.24 1254Z" fill="#00ffff"/>
<path d="M527.47 1241.2L536.87 1250.6L527.47 1260L518.07 1250.6Z" fill="#00ffff"/>
<path d="M575.3 1236.9L584.7 1246.3L575.3 1255.7L565.9 1246.3Z" fill="#00ffff"/>
<path d="M623.13 1236.9L632.53 1246.3L623.13 1255.7L613.73 1246.3Z" fill="#00ffff"/>
<path d="M670.96 1235.9L680.36 1245.3L670.96 1254.7L661.56 1245.3Z" fill="#00ffff"/>
</g>
<text x="82.8" y="1616.9" font-size="22.2" text-anchor="end">0</text>
<text x="82.8" y="1577.72" font-size="22.2" text-anchor="end">20</text>
<text x="82.8" y="1538.54" font-size="22.2" text-anchor="end">40</text>
<text x="82.8" y="1499.35" font-size="22.2" text-anchor="end">60</text>
<text x="82.8" y="1460.17" font-size="22.2" text-anchor="end">80</text>
<text id="t1_16" x="82.8" y="1420.99" font-size="22.2" text-anchor="end"><tspan class="o1">1</tspan>00</text><g class="ov"><path d="M570 0L570 1250L200 1010L200 1180L585 1409L751 1409L751 0Z" transform="translate(45.77 1420.99) scale(0.01084 -0.01084)" stroke-width="27.7"/></g>
<text id="t1_17" x="82.8" y="1381.81" font-size="22.2" text-anchor="end"><tspan class="o1">1</tspan>20</text><g class="ov"><path d="M570 0L570 1250L200 1010L200 1180L585 1409L751 1409L751 0Z" transform="translate(45.77 1381.81) scale(0.01084 -0.01084)" stroke-width="27.7"/></g>
<text id="t1_18" x="82.8" y="1342.63" font-size="22.2" text-anchor="end"><tspan class="o1">1</tspan>40</text><g class="ov"><path d="M570 0L570 1250L200 1010L200 1180L585 1409L751 1409L751 0Z" transform="translate(45.77 1342.63) scale(0.01084 -0.01084)" stroke-width="27.7"/></g>
<text id="t1_19" x="82.8" y="1303.45" font-size="22.2" text-anchor="end"><tspan class="o1">1</tspan>60</text><g class="ov"><path d="M570 0L570 1250L200 1010L200 1180L585 1409L751 1409L751 0Z" transform="translate(45.77 1303.45) scale(0.01084 -0.01084)" stroke-width="27.7"/></g>
<text id="t1_20" x="82.8" y="1264.26" font-size="22.2" text-anchor="end"><tspan class="o1">1</tspan>80</text><g class="ov"><path d="M570 0L570 1250L200 1010L200 1180L585 1409L751 1409L751 0Z" transform="translate(45.77 1264.26) scale(0.01084 -0.01084)" stroke-width="27.7"/></g>
<text x="82.8" y="1225.08" font-size="22.2" text-anchor="end">200</text>
<text x="82.8" y="1185.9" font-size="22.2" text-anchor="end">220</text>
<text x="97" y="1641.6" font-size="22.2" text-anchor="middle">0</text>
<text id="t1_21" x="144.83" y="1641.6" font-size="22.2" text-anchor="middle"><tspan class="o1">1</tspan></text><g class="ov"><path d="M570 0L570 1250L200 1010L200 1180L585 1409L751 1409L751 0Z" transform="translate(138.66 1641.60) scale(0.01084 -0.01084)" stroke-width="27.7"/></g>
<text x="192.66" y="1641.6" font-size="22.2" text-anchor="middle">2</text>
<text x="240.49" y="1641.6" font-size="22.2" text-anchor="middle">3</text>
<text x="288.32" y="1641.6" font-size="22.2" text-anchor="middle">4</text>
<text x="336.15" y="1641.6" font-size="22.2" text-anchor="middle">5</text>
<text x="383.98" y="1641.6" font-size="22.2" text-anchor="middle">6</text>
<text x="431.81" y="1641.6" font-size="22.2" text-anchor="middle">7</text>
<text x="479.64" y="1641.6" font-size="22.2" text-anchor="middle">8</text>
<text x="527.47" y="1641.6" font-size="22.2" text-anchor="middle">9</text>
<text id="t1_22" x="575.3" y="1641.6" font-size="22.2" text-anchor="middle"><tspan class="o1">1</tspan>0</text><g class="ov"><path d="M570 0L570 1250L200 1010L200 1180L585 1409L751 1409L751 0Z" transform="translate(562.96 1641.60) scale(0.01084 -0.01084)" stroke-width="27.7"/></g>
<text id="t1_23" x="623.13" y="1641.6" font-size="22.2" text-anchor="middle"><tspan class="o1">1</tspan><tspan class="o1">1</tspan></text><g class="ov"><path d="M570 0L570 1250L200 1010L200 1180L585 1409L751 1409L751 0Z" transform="translate(611.61 1641.60) scale(0.01084 -0.01084)" stroke-width="27.7"/><path d="M570 0L570 1250L200 1010L200 1180L585 1409L751 1409L751 0Z" transform="translate(622.31 1641.60) scale(0.01084 -0.01084)" stroke-width="27.7"/></g>
<text id="t1_24" x="670.96" y="1641.6" font-size="22.2" text-anchor="middle"><tspan class="o1">1</tspan>2</text><g class="ov"><path d="M570 0L570 1250L200 1010L200 1180L585 1409L751 1409L751 0Z" transform="translate(658.62 1641.60) scale(0.01084 -0.01084)" stroke-width="27.7"/></g>
<text class="ttl" x="394.5" y="1682.6" font-size="26.9" text-anchor="middle">Time (d)</text>
<text id="t1_25" class="ttl" transform="translate(26.1 1385.4) rotate(-90)" font-size="26.2" text-anchor="middle">Butyric acid (mg/<tspan class="o1">1</tspan>00mL)</text><g class="ov" transform="translate(26.1 1385.4) rotate(-90)"><path d="M570 0L570 1250L200 1010L200 1180L585 1409L751 1409L751 0Z" transform="translate(53.09 0.00) scale(0.01279 -0.01279)" stroke-width="11.7"/></g>
<rect x="107.1" y="1190.8" width="193.6" height="136.1" fill="#fff" stroke="#000" stroke-width="1.5"/>
<path d="M114.3 1208.1H162.6" stroke="#ff0000" stroke-width="1.55"/>
<circle cx="138.5" cy="1208.1" r="7.1" fill="#ff0000"/>
<text x="169.13" y="1215.21" font-size="21.8">0 mM BES</text>
<path d="M114.3 1234.8H162.6" stroke="#00ff00" stroke-width="1.55"/>
<circle cx="138.5" cy="1234.8" r="6.6" fill="#fff" stroke="#00ff00" stroke-width="1.6"/>
<text x="169.13" y="1241.91" font-size="21.8">25 mM BES</text>
<path d="M114.3 1262.1H162.6" stroke="#000000" stroke-width="1.55"/>
<rect x="132.1" y="1255.7" width="12.8" height="12.8" fill="#000"/>
<text x="169.13" y="1269.21" font-size="21.8">50 mM BES</text>
<path d="M114.3 1288.4H162.6" stroke="#0000ff" stroke-width="1.55"/>
<rect x="132.6" y="1282.5" width="11.8" height="11.8" fill="#fff" stroke="#0000ff" stroke-width="1.6"/>
<text id="t1_26" x="169.13" y="1295.51" font-size="21.8"><tspan class="o1">1</tspan>00 mM BES</text><g class="ov"><path d="M570 0L570 1250L200 1010L200 1180L585 1409L751 1409L751 0Z" transform="translate(169.13 1295.51) scale(0.01064 -0.01064)" stroke-width="28.2"/></g>
<path d="M114.3 1315.1H162.6" stroke="#00ffff" stroke-width="1.55"/>
<path d="M138.5 1305.7L147.9 1315.1L138.5 1324.5L129.1 1315.1Z" fill="#00ffff"/>
<text x="169.13" y="1322.21" font-size="21.8">200 mM BES</text>
<text x="5.6" y="1709.6" font-size="34.5" font-weight="bold">d</text>
<rect x="100.1" y="1712.1" width="584" height="433.8" fill="none" stroke="#000" stroke-width="2.0"/>
<path d="M91.6 2145.9H100.1M95.6 2112.53H100.1M91.6 2079.16H100.1M95.6 2045.79H100.1M91.6 2012.42H100.1M95.6 1979.05H100.1M91.6 1945.68H100.1M95.6 1912.32H100.1M91.6 1878.95H100.1M95.6 1845.58H100.1M91.6 1812.21H100.1M95.6 1778.84H100.1M91.6 1745.47H100.1M95.6 1712.1H100.1M100.1 2145.9V2154.4M123.88 2145.9V2150.4M147.65 2145.9V2154.4M171.42 2145.9V2150.4M195.2 2145.9V2154.4M218.97 2145.9V2150.4M242.75 2145.9V2154.4M266.52 2145.9V2150.4M290.3 2145.9V2154.4M314.07 2145.9V2150.4M337.85 2145.9V2154.4M361.62 2145.9V2150.4M385.4 2145.9V2154.4M409.17 2145.9V2150.4M432.95 2145.9V2154.4M456.73 2145.9V2150.4M480.5 2145.9V2154.4M504.27 2145.9V2150.4M528.05 2145.9V2154.4M551.82 2145.9V2150.4M575.6 2145.9V2154.4M599.38 2145.9V2150.4M623.15 2145.9V2154.4M646.92 2145.9V2150.4M670.7 2145.9V2154.4" stroke="#000" stroke-width="2.0" fill="none"/>
<clipPath id="clip3"><rect x="99.1" y="1711.1" width="586" height="435.8"/></clipPath>
<g clip-path="url(#clip3)">
<polyline points="100.1,2145.9 147.65,2125.5 195.2,2076.8 242.75,2011.6 290.3,1934.3 337.85,1877.1 385.4,1841.2 432.95,1804.3 480.5,1777.4 528.05,1765.3 575.6,1757.3 623.15,1757.3 670.7,1758.1" fill="none" stroke="#ff0000" stroke-width="1.55" stroke-linejoin="round"/>
<polyline points="100.1,2145.9 147.65,2130.7 195.2,2115.9 242.75,2065.5 290.3,2018.7 337.85,1976.1 385.4,1932.5 432.95,1896.9 480.5,1872.3 528.05,1846.4 575.6,1825.5 623.15,1818.3 670.7,1818.3" fill="none" stroke="#00ff00" stroke-width="1.55" stroke-linejoin="round"/>
<polyline points="100.1,2145.9 147.65,2136.9 195.2,2129.7 242.75,2105.6 290.3,2068.2 337.85,2032.2 385.4,1996.3 432.95,1967.7 480.5,1937.8 528.05,1915.9 575.6,1909.4 623.15,1907.8 670.7,1905.4" fill="none" stroke="#000000" stroke-width="1.55" stroke-linejoin="round"/>
<polyline points="100.1,2145.9 147.65,2140 195.2,2136.9 242.75,2131.7 290.3,2114.7 337.85,2100.4 385.4,2077.9 432.95,2055.5 480.5,2039.5 528.05,2031.1 575.6,2026.3 623.15,2026.3 670.7,2025.1" fill="none" stroke="#0000ff" stroke-width="1.55" stroke-linejoin="round"/>
<polyline points="100.1,2145.9 147.65,2144 195.2,2144 242.75,2143.8 290.3,2143.5 337.85,2142.6 385.4,2141.8 432.95,2140.5 480.5,2136 528.05,2134.7 575.6,2133.4 623.15,2132.6 670.7,2130.2" fill="none" stroke="#00ffff" stroke-width="1.55" stroke-linejoin="round"/>
<circle cx="100.1" cy="2145.9" r="7.1" fill="#ff0000"/>
<circle cx="147.65" cy="2125.5" r="7.1" fill="#ff0000"/>
<circle cx="195.2" cy="2076.8" r="7.1" fill="#ff0000"/>
<circle cx="242.75" cy="2011.6" r="7.1" fill="#ff0000"/>
<circle cx="290.3" cy="1934.3" r="7.1" fill="#ff0000"/>
<circle cx="337.85" cy="1877.1" r="7.1" fill="#ff0000"/>
<circle cx="385.4" cy="1841.2" r="7.1" fill="#ff0000"/>
<circle cx="432.95" cy="1804.3" r="7.1" fill="#ff0000"/>
<circle cx="480.5" cy="1777.4" r="7.1" fill="#ff0000"/>
<circle cx="528.05" cy="1765.3" r="7.1" fill="#ff0000"/>
<circle cx="575.6" cy="1757.3" r="7.1" fill="#ff0000"/>
<circle cx="623.15" cy="1757.3" r="7.1" fill="#ff0000"/>
<circle cx="670.7" cy="1758.1" r="7.1" fill="#ff0000"/>
<circle cx="100.1" cy="2145.9" r="6.6" fill="#fff" stroke="#00ff00" stroke-width="1.6"/>
<circle cx="147.65" cy="2130.7" r="6.6" fill="#fff" stroke="#00ff00" stroke-width="1.6"/>
<circle cx="195.2" cy="2115.9" r="6.6" fill="#fff" stroke="#00ff00" stroke-width="1.6"/>
<circle cx="242.75" cy="2065.5" r="6.6" fill="#fff" stroke="#00ff00" stroke-width="1.6"/>
<circle cx="290.3" cy="2018.7" r="6.6" fill="#fff" stroke="#00ff00" stroke-width="1.6"/>
<circle cx="337.85" cy="1976.1" r="6.6" fill="#fff" stroke="#00ff00" stroke-width="1.6"/>
<circle cx="385.4" cy="1932.5" r="6.6" fill="#fff" stroke="#00ff00" stroke-width="1.6"/>
<circle cx="432.95" cy="1896.9" r="6.6" fill="#fff" stroke="#00ff00" stroke-width="1.6"/>
<circle cx="480.5" cy="1872.3" r="6.6" fill="#fff" stroke="#00ff00" stroke-width="1.6"/>
<circle cx="528.05" cy="1846.4" r="6.6" fill="#fff" stroke="#00ff00" stroke-width="1.6"/>
<circle cx="575.6" cy="1825.5" r="6.6" fill="#fff" stroke="#00ff00" stroke-width="1.6"/>
<circle cx="623.15" cy="1818.3" r="6.6" fill="#fff" stroke="#00ff00" stroke-width="1.6"/>
<circle cx="670.7" cy="1818.3" r="6.6" fill="#fff" stroke="#00ff00" stroke-width="1.6"/>
<rect x="93.7" y="2139.5" width="12.8" height="12.8" fill="#000"/>
<rect x="141.25" y="2130.5" width="12.8" height="12.8" fill="#000"/>
<rect x="188.8" y="2123.3" width="12.8" height="12.8" fill="#000"/>
<rect x="236.35" y="2099.2" width="12.8" height="12.8" fill="#000"/>
<rect x="283.9" y="2061.8" width="12.8" height="12.8" fill="#000"/>
<rect x="331.45" y="2025.8" width="12.8" height="12.8" fill="#000"/>
<rect x="379" y="1989.9" width="12.8" height="12.8" fill="#000"/>
<rect x="426.55" y="1961.3" width="12.8" height="12.8" fill="#000"/>
<rect x="474.1" y="1931.4" width="12.8" height="12.8" fill="#000"/>
<rect x="521.65" y="1909.5" width="12.8" height="12.8" fill="#000"/>
<rect x="569.2" y="1903" width="12.8" height="12.8" fill="#000"/>
<rect x="616.75" y="1901.4" width="12.8" height="12.8" fill="#000"/>
<rect x="664.3" y="1899" width="12.8" height="12.8" fill="#000"/>
<rect x="94.2" y="2140" width="11.8" height="11.8" fill="#fff" stroke="#0000ff" stroke-width="1.6"/>
<rect x="141.75" y="2134.1" width="11.8" height="11.8" fill="#fff" stroke="#0000ff" stroke-width="1.6"/>
<rect x="189.3" y="2131" width="11.8" height="11.8" fill="#fff" stroke="#0000ff" stroke-width="1.6"/>
<rect x="236.85" y="2125.8" width="11.8" height="11.8" fill="#fff" stroke="#0000ff" stroke-width="1.6"/>
<rect x="284.4" y="2108.8" width="11.8" height="11.8" fill="#fff" stroke="#0000ff" stroke-width="1.6"/>
<rect x="331.95" y="2094.5" width="11.8" height="11.8" fill="#fff" stroke="#0000ff" stroke-width="1.6"/>
<rect x="379.5" y="2072" width="11.8" height="11.8" fill="#fff" stroke="#0000ff" stroke-width="1.6"/>
<rect x="427.05" y="2049.6" width="11.8" height="11.8" fill="#fff" stroke="#0000ff" stroke-width="1.6"/>
<rect x="474.6" y="2033.6" width="11.8" height="11.8" fill="#fff" stroke="#0000ff" stroke-width="1.6"/>
<rect x="522.15" y="2025.2" width="11.8" height="11.8" fill="#fff" stroke="#0000ff" stroke-width="1.6"/>
<rect x="569.7" y="2020.4" width="11.8" height="11.8" fill="#fff" stroke="#0000ff" stroke-width="1.6"/>
<rect x="617.25" y="2020.4" width="11.8" height="11.8" fill="#fff" stroke="#0000ff" stroke-width="1.6"/>
<rect x="664.8" y="2019.2" width="11.8" height="11.8" fill="#fff" stroke="#0000ff" stroke-width="1.6"/>
<path d="M100.1 2136.5L109.5 2145.9L100.1 2155.3L90.7 2145.9Z" fill="#00ffff"/>
<path d="M147.65 2134.6L157.05 2144L147.65 2153.4L138.25 2144Z" fill="#00ffff"/>
<path d="M195.2 2134.6L204.6 2144L195.2 2153.4L185.8 2144Z" fill="#00ffff"/>
<path d="M242.75 2134.4L252.15 2143.8L242.75 2153.2L233.35 2143.8Z" fill="#00ffff"/>
<path d="M290.3 2134.1L299.7 2143.5L290.3 2152.9L280.9 2143.5Z" fill="#00ffff"/>
<path d="M337.85 2133.2L347.25 2142.6L337.85 2152L328.45 2142.6Z" fill="#00ffff"/>
<path d="M385.4 2132.4L394.8 2141.8L385.4 2151.2L376 2141.8Z" fill="#00ffff"/>
<path d="M432.95 2131.1L442.35 2140.5L432.95 2149.9L423.55 2140.5Z" fill="#00ffff"/>
<path d="M480.5 2126.6L489.9 2136L480.5 2145.4L471.1 2136Z" fill="#00ffff"/>
<path d="M528.05 2125.3L537.45 2134.7L528.05 2144.1L518.65 2134.7Z" fill="#00ffff"/>
<path d="M575.6 2124L585 2133.4L575.6 2142.8L566.2 2133.4Z" fill="#00ffff"/>
<path d="M623.15 2123.2L632.55 2132.6L623.15 2142L613.75 2132.6Z" fill="#00ffff"/>
<path d="M670.7 2120.8L680.1 2130.2L670.7 2139.6L661.3 2130.2Z" fill="#00ffff"/>
</g>
<text x="86.4" y="2152.3" font-size="22.7" text-anchor="end">0</text>
<text id="t1_27" x="86.4" y="2085.56" font-size="22.7" text-anchor="end"><tspan class="o1">1</tspan>00</text><g class="ov"><path d="M570 0L570 1250L200 1010L200 1180L585 1409L751 1409L751 0Z" transform="translate(48.53 2085.56) scale(0.01108 -0.01108)" stroke-width="27.1"/></g>
<text x="86.4" y="2018.82" font-size="22.7" text-anchor="end">200</text>
<text x="86.4" y="1952.08" font-size="22.7" text-anchor="end">300</text>
<text x="86.4" y="1885.35" font-size="22.7" text-anchor="end">400</text>
<text x="86.4" y="1818.61" font-size="22.7" text-anchor="end">500</text>
<text x="86.4" y="1751.87" font-size="22.7" text-anchor="end">600</text>
<text x="100.1" y="2178.4" font-size="22.7" text-anchor="middle">0</text>
<text id="t1_28" x="147.65" y="2178.4" font-size="22.7" text-anchor="middle"><tspan class="o1">1</tspan></text><g class="ov"><path d="M570 0L570 1250L200 1010L200 1180L585 1409L751 1409L751 0Z" transform="translate(141.34 2178.40) scale(0.01108 -0.01108)" stroke-width="27.1"/></g>
<text x="195.2" y="2178.4" font-size="22.7" text-anchor="middle">2</text>
<text x="242.75" y="2178.4" font-size="22.7" text-anchor="middle">3</text>
<text x="290.3" y="2178.4" font-size="22.7" text-anchor="middle">4</text>
<text x="337.85" y="2178.4" font-size="22.7" text-anchor="middle">5</text>
<text x="385.4" y="2178.4" font-size="22.7" text-anchor="middle">6</text>
<text x="432.95" y="2178.4" font-size="22.7" text-anchor="middle">7</text>
<text x="480.5" y="2178.4" font-size="22.7" text-anchor="middle">8</text>
<text x="528.05" y="2178.4" font-size="22.7" text-anchor="middle">9</text>
<text id="t1_29" x="575.6" y="2178.4" font-size="22.7" text-anchor="middle"><tspan class="o1">1</tspan>0</text><g class="ov"><path d="M570 0L570 1250L200 1010L200 1180L585 1409L751 1409L751 0Z" transform="translate(562.97 2178.40) scale(0.01108 -0.01108)" stroke-width="27.1"/></g>
<text id="t1_30" x="623.15" y="2178.4" font-size="22.7" text-anchor="middle"><tspan class="o1">1</tspan><tspan class="o1">1</tspan></text><g class="ov"><path d="M570 0L570 1250L200 1010L200 1180L585 1409L751 1409L751 0Z" transform="translate(611.37 2178.40) scale(0.01108 -0.01108)" stroke-width="27.1"/><path d="M570 0L570 1250L200 1010L200 1180L585 1409L751 1409L751 0Z" transform="translate(622.31 2178.40) scale(0.01108 -0.01108)" stroke-width="27.1"/></g>
<text id="t1_31" x="670.7" y="2178.4" font-size="22.7" text-anchor="middle"><tspan class="o1">1</tspan>2</text><g class="ov"><path d="M570 0L570 1250L200 1010L200 1180L585 1409L751 1409L751 0Z" transform="translate(658.08 2178.40) scale(0.01108 -0.01108)" stroke-width="27.1"/></g>
<text class="ttl" x="404.8" y="2210.6" font-size="27.7" text-anchor="middle">Time (d)</text>
<text id="t1_32" class="ttl" transform="translate(24.3 1929.3) rotate(-90)" font-size="27" text-anchor="middle">CH<tspan font-size="17.01" dy="11">4</tspan><tspan dy="-11"> production (µmol/<tspan class="o1">1</tspan>00mL)</tspan></text><g class="ov" transform="translate(24.3 1929.3) rotate(-90)"><path d="M570 0L570 1250L200 1010L200 1180L585 1409L751 1409L751 0Z" transform="translate(86.78 0.00) scale(0.01318 -0.01318)" stroke-width="11.4"/></g>
<rect x="114" y="1728" width="199.1" height="140.4" fill="#fff" stroke="#000" stroke-width="1.5"/>
<path d="M121.5 1745.2H171.8" stroke="#ff0000" stroke-width="1.55"/>
<circle cx="146.5" cy="1745.2" r="7.1" fill="#ff0000"/>
<text x="178" y="1753.05" font-size="22.5">0 mM BES</text>
<path d="M121.5 1773H171.8" stroke="#00ff00" stroke-width="1.55"/>
<circle cx="146.5" cy="1773" r="6.6" fill="#fff" stroke="#00ff00" stroke-width="1.6"/>
<text x="178" y="1780.85" font-size="22.5">25 mM BES</text>
<path d="M121.5 1800.3H171.8" stroke="#000000" stroke-width="1.55"/>
<rect x="140.1" y="1793.9" width="12.8" height="12.8" fill="#000"/>
<text x="178" y="1808.15" font-size="22.5">50 mM BES</text>
<path d="M121.5 1828.2H171.8" stroke="#0000ff" stroke-width="1.55"/>
<rect x="140.6" y="1822.3" width="11.8" height="11.8" fill="#fff" stroke="#0000ff" stroke-width="1.6"/>
<text id="t1_33" x="178" y="1836.05" font-size="22.5"><tspan class="o1">1</tspan>00 mM BES</text><g class="ov"><path d="M570 0L570 1250L200 1010L200 1180L585 1409L751 1409L751 0Z" transform="translate(178.00 1836.05) scale(0.01099 -0.01099)" stroke-width="27.3"/></g>
<path d="M121.5 1855.5H171.8" stroke="#00ffff" stroke-width="1.55"/>
<path d="M146.5 1846.1L155.9 1855.5L146.5 1864.9L137.1 1855.5Z" fill="#00ffff"/>
<text x="178" y="1863.35" font-size="22.5">200 mM BES</text>
</svg>
</body></html>
